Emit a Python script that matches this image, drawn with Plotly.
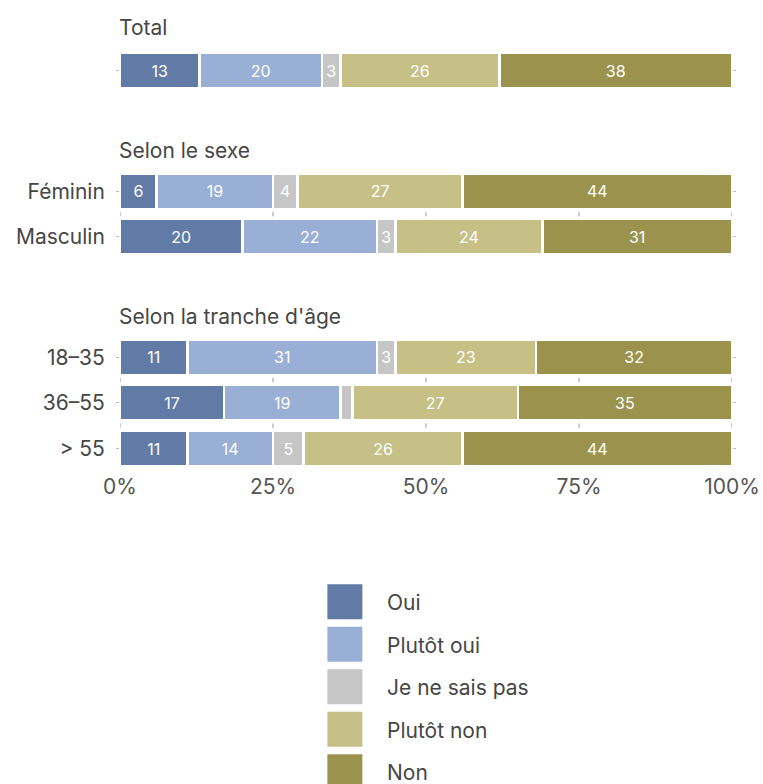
import plotly.graph_objects as go

# ---- data -------------------------------------------------------------
CATEGORIES = ["Oui", "Plutôt oui", "Je ne sais pas", "Plutôt non", "Non"]
COLORS = ["#627ba6", "#99afd6", "#c6c6c6", "#c6c087", "#9b934d"]

TOTAL_ROWS = ["Total"]
TOTAL_VALUES = {
    "Oui": [13],
    "Plutôt oui": [20],
    "Je ne sais pas": [3],
    "Plutôt non": [26],
    "Non": [38],
}

SEXE_ROWS = ["Féminin", "Masculin"]
SEXE_VALUES = {
    "Oui": [6, 20],
    "Plutôt oui": [19, 22],
    "Je ne sais pas": [4, 3],
    "Plutôt non": [27, 24],
    "Non": [44, 31],
}

AGE_ROWS = ["18–35", "36–55", "> 55"]
AGE_VALUES = {
    "Oui": [11, 17, 11],
    "Plutôt oui": [31, 19, 14],
    "Je ne sais pas": [3, 2, 5],
    "Plutôt non": [23, 27, 26],
    "Non": [32, 35, 44],
}

GROUP_TITLES = ["Total", "Selon le sexe", "Selon la tranche d'âge"]
X_TICKS = [0, 25, 50, 75, 100]
X_TICK_LABELS = ["0%", "25%", "50%", "75%", "100%"]

# ---- layout constants (pixels) -----------------------------------------
W, H = 763, 784
ROW_PX = 45.6
FONT = "Inter"
TEXT_COLOR = "#464646"
AXIS_COLOR = "#555555"


def py(px):
    """Pixel row (from top) -> paper fraction."""
    return 1 - px / H


groups = [
    (TOTAL_ROWS, TOTAL_VALUES, 70.9, 28),
    (SEXE_ROWS, SEXE_VALUES, 191.3, 150),
    (AGE_ROWS, AGE_VALUES, 357.3, 316),
]

fig = go.Figure()
shapes = []
annotations = []

for gi, (rows, values, first_center, title_px) in enumerate(groups):
    yname = "y" if gi == 0 else f"y{gi + 1}"
    for cat, col in zip(CATEGORIES, COLORS):
        vals = values[cat]
        fig.add_trace(go.Bar(
            x=vals, y=rows, orientation="h",
            name=cat, showlegend=False,
            marker=dict(color=col, line=dict(color="white", width=2.5)),
            text=[str(v) for v in vals],
            textposition="inside", insidetextanchor="middle", textangle=0,
            textfont=dict(color="white", size=16, family=FONT),
            xaxis="x", yaxis=yname, hoverinfo="skip",
        ))
    top = first_center - ROW_PX / 2
    bottom = top + ROW_PX * len(rows)
    axkey = "yaxis" if gi == 0 else f"yaxis{gi + 1}"
    fig.update_layout({axkey: dict(
        domain=[py(bottom), py(top)],
        anchor="x", type="category",
        categoryorder="array", categoryarray=rows,
        range=[len(rows) - 0.5, -0.5],
        showgrid=False, zeroline=False, showline=False,
        ticks="outside", ticklen=3, tickcolor="#bbbbbb", tickwidth=1,
        mirror="ticks",
        showticklabels=(gi != 0),
        ticklabelstandoff=7,
        tickfont=dict(size=21, color=TEXT_COLOR, family=FONT),
    )})
    # short tick marks in the gaps between rows of the same group
    for r in range(len(rows) - 1):
        for t in X_TICKS:
            shapes.append(dict(
                type="line", xref="x", yref=yname,
                x0=t, x1=t, y0=r + 0.45, y1=r + 0.55,
                line=dict(color="#999999", width=1),
            ))
    annotations.append(dict(
        text=GROUP_TITLES[gi], xref="paper", yref="paper",
        x=0, y=py(title_px), xanchor="left", yanchor="middle",
        showarrow=False, xshift=-3,
        font=dict(size=21, color=TEXT_COLOR, family=FONT),
    ))

# ---- legend drawn as its own small panel ---------------------------------
LEG_TOP, LEG_FIRST, LEG_STEP = 580, 601.7, 42.5
fig.add_trace(go.Scatter(
    x=[(344.5 - 120) / 611] * len(CATEGORIES), y=CATEGORIES,
    mode="markers", xaxis="x2", yaxis="y4",
    marker=dict(symbol="square", size=35, color=COLORS, line=dict(width=0)),
    showlegend=False, hoverinfo="skip", cliponaxis=False,
))
for cat in CATEGORIES:
    annotations.append(dict(
        text=cat, xref="x2", yref="y4",
        x=(385 - 120) / 611, y=cat, xanchor="left", yanchor="middle",
        showarrow=False, yshift=-1,
        font=dict(size=21, color=TEXT_COLOR, family=FONT),
    ))

fig.update_layout(
    width=W, height=H,
    margin=dict(l=120, r=31, t=0, b=0),
    paper_bgcolor="white", plot_bgcolor="white",
    barmode="stack", bargap=0.22,
    uniformtext=dict(minsize=16, mode="hide"),
    showlegend=False,
    font=dict(family=FONT, color=TEXT_COLOR),
    xaxis=dict(
        range=[0, 100], anchor="y3", domain=[0, 1],
        tickvals=X_TICKS, ticktext=X_TICK_LABELS,
        showgrid=False, zeroline=False, showline=False, ticks="",
        tickfont=dict(size=21, color=AXIS_COLOR, family=FONT),
        ticklabelstandoff=1,
    ),
    xaxis2=dict(
        range=[0, 1], anchor="y4", domain=[0, 1], visible=False,
    ),
    yaxis4=dict(
        domain=[0, py(LEG_TOP)], anchor="x2", type="category",
        categoryorder="array", categoryarray=CATEGORIES,
        range=[(H - LEG_FIRST) / LEG_STEP, (LEG_TOP - LEG_FIRST) / LEG_STEP],
        visible=False,
    ),
    shapes=shapes,
    annotations=annotations,
)

fig.write_html("out.html")
